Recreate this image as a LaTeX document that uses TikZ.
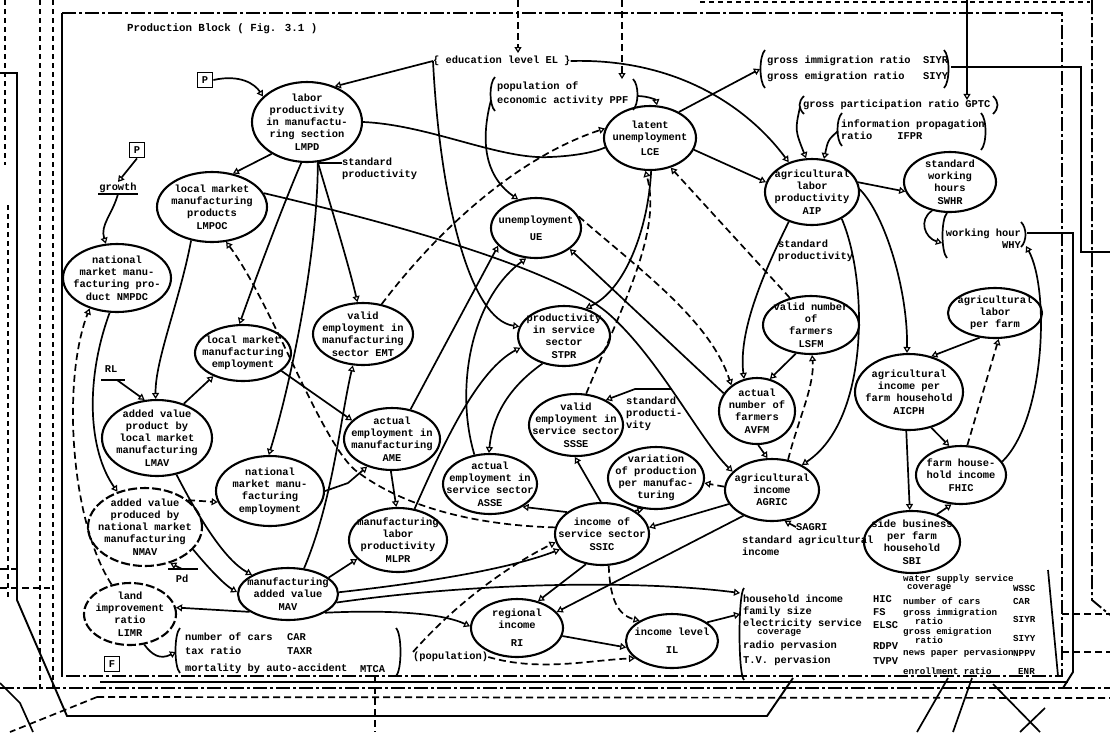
\documentclass[tikz,border=0pt]{standalone}
\usepackage{fontspec}
\setmainfont{Liberation Mono}
\usetikzlibrary{shapes.geometric,arrows.meta}

% ellipse node with a separate text node on top of it
\newcommand\enode[6][]{%
  \node[ell,#1,minimum width=#4pt,minimum height=#5pt] (#2) at (#3) {};
  \node[etxt] (#2-t) at (#2) {#6};}
% hand-drawn round brackets
\newcommand\openpar[3]{\draw[pen] ({#1+5},#2) .. controls ({#1-1},{#2+6}) and ({#1-1},{#3-6}) .. ({#1+5},#3);}
\newcommand\closepar[3]{\draw[pen] ({#1-5},#2) .. controls ({#1+1},{#2+6}) and ({#1+1},{#3-6}) .. ({#1-5},#3);}

\begin{document}
\begin{tikzpicture}[x=1pt,y=-1pt,
  font=\fontsize{10.4}{12.2}\selectfont\bfseries,
  ell/.style={ellipse,draw,line width=2.1pt,inner sep=0pt},
  etxt/.style={align=center,inner sep=0pt},
  lbl/.style={align=left,inner sep=0pt,anchor=west},
  pen/.style={line width=1.7pt},
  ar/.style={pen,-{Triangle[open,length=6pt,width=7pt,line width=1.2pt]}},
  da/.style={ar,dash pattern=on 7pt off 4pt},
  dl/.style={pen,dash pattern=on 7pt off 4pt},
  rail/.style={line width=1.8pt,dash pattern=on 5pt off 4pt},
  dashdot/.style={line width=1.9pt,dash pattern=on 14pt off 3pt on 3pt off 3pt},
  frm/.style={line width=1.9pt},
  box/.style={draw,line width=1.8pt,inner sep=2.5pt,minimum size=15pt},
  small/.style={font=\fontsize{9.2}{10}\selectfont\bfseries}]
\useasboundingbox (0,0) rectangle (1110,732);
\fill[white] (0,0) rectangle (1110,732);

% ---------- frames and rails ----------
\draw[dashdot] (62,13) rectangle (1062,676);
\draw[frm] (62,13) -- (62,676);
\draw[frm] (0,73) -- (17,73) -- (17,600) -- (67,716) -- (767,716) -- (793,678);
\draw[rail] (5,0) -- (5,165);
\draw[rail] (40,0) -- (40,690);
\draw[rail] (53,0) -- (53,690);
\draw[rail] (8,205) -- (8,600);
\draw[dl] (0,569) -- (20,569);
\draw[dl] (0,588) -- (50,588);
\draw[pen] (100,682) -- (1068,682);
\draw[dashdot] (0,688) -- (1110,688);
\draw[dl] (97,697) -- (1110,698);
\draw[dl] (97,697) -- (10,732);
\draw[pen] (0,683) -- (20,703) -- (33,732);
\draw[dl] (375,676) -- (375,732);
\draw[rail,line width=2.2pt] (700,2) -- (1090,2);
\draw[dashdot] (1092,0) -- (1092,600) -- (1110,615);
\draw[frm] (1027,233) -- (1073,233) -- (1073,672) -- (1063,688);
\draw[pen] (951,67) -- (1081,67) -- (1081,252) -- (1110,252);
\draw[dl] (1062,614) -- (1110,614);
\draw[dl] (1062,652) -- (1110,652);
\draw[pen] (1048,570) -- (1058,676);
\draw[pen] (917,732) -- (948,678);
\draw[pen] (953,732) -- (972,678);
\draw[pen] (993,684) -- (1040,732);
\draw[pen] (1020,732) -- (1045,708);

% ---------- title ----------
\node[anchor=west,inner sep=0pt,font=\fontsize{10.8}{12}\selectfont\bfseries] (title) at (127,29) {Production Block ( Fig. 3.1 )};

% ---------- ellipses ----------
\enode{lmpd}{307,122}{110}{80}{labor\\productivity\\in manufactu-\\ring section\\LMPD}
\enode{lmpoc}{212,207}{110}{70}{local market\\manufacturing\\products\\LMPOC}
\enode{nmpdc}{117,278}{108}{68}{national\\market manu-\\facturing pro-\\duct NMPDC}
\enode{emt}{363,334}{100}{62}{valid\\employment in\\manufacturing\\sector EMT}
\enode{lmme}{243,353}{96}{56}{local market\\manufacturing\\employment}
\enode{lmav}{157,438}{110}{76}{added value\\product by\\local market\\manufacturing\\LMAV}
\enode[dash pattern=on 9pt off 3pt]{nmav}{145,527}{114}{78}{added value\\produced by\\national market\\manufacturing\\NMAV}
\enode{nmme}{270,491}{108}{70}{national\\market manu-\\facturing\\employment}
\enode{ame}{392,439}{96}{62}{actual\\employment in\\manufacturing\\AME}
\enode{mlpr}{398,540}{98}{64}{manufacturing\\labor\\productivity\\MLPR}
\enode{mav}{288,594}{100}{52}{manufacturing\\added value\\MAV}
\enode[dash pattern=on 9pt off 3pt]{limr}{130,614}{92}{62}{land\\improvement\\ratio\\LIMR}
\enode{ue}{536,228}{90}{60}{unemployment\\[5pt]UE}
\enode{stpr}{564,336}{92}{60}{productivity\\in service\\sector\\STPR}
\enode{lce}{650,138}{92}{64}{latent\\unemployment\\[3pt]LCE}
\enode{aip}{812,192}{94}{66}{agricultural\\labor\\productivity\\AIP}
\enode{swhr}{950,182}{92}{60}{standard\\working\\hours\\SWHR}
\enode{lsfm}{811,325}{96}{58}{valid number\\of\\farmers\\LSFM}
\enode{alpf}{995,313}{94}{50}{agricultural\\labor\\per farm}
\enode{avfm}{757,411}{76}{66}{actual\\number of\\farmers\\AVFM}
\enode{aicph}{909,392}{108}{76}{agricultural\\income per\\farm household\\AICPH}
\enode{fhic}{961,475}{90}{58}{farm house-\\hold income\\FHIC}
\enode{sbi}{912,542}{96}{62}{side business\\per farm\\household\\SBI}
\enode{agric}{772,490}{94}{62}{agricultural\\income\\AGRIC}
\enode{vpm}{656,478}{96}{62}{variation\\of production\\per manufac-\\turing}
\enode{ssse}{576,425}{94}{62}{valid\\employment in\\service sector\\SSSE}
\enode{asse}{490,484}{94}{60}{actual\\employment in\\service sector\\ASSE}
\enode{ssic}{602,534}{94}{62}{income of\\service sector\\SSIC}
\enode{ri}{517,628}{92}{58}{regional\\income\\[6pt]RI}
\enode{il}{672,641}{92}{54}{income level\\[6pt]IL}

% ---------- free labels ----------
\node[anchor=west,inner sep=0pt] (el) at (433,61) {\{ education level EL \}};
\node[lbl] (ppf) at (497,94) {population of\\[2pt]economic activity PPF};
\node[lbl] (siyr) at (767,69) {gross immigration ratio~~SIYR\\[4pt]gross emigration ratio~~~SIYY};
\node[lbl] (gptc) at (803,105) {gross participation ratio~GPTC};
\node[lbl] (ifpr) at (841,130) {information propagation\\ratio~~~~IFPR};
\node[inner sep=0pt,align=right,anchor=east] (why) at (1021,239) {working hour\\WHY};
\node[lbl] (sp1) at (342,169) {standard\\productivity};
\node[lbl] (sp2) at (778,251) {standard\\productivity};
\node[lbl] (sp3) at (626,414) {standard\\producti-\\vity};
\node[inner sep=1pt] (growth) at (118,188) {growth};
\node[box] (p1) at (205,80) {P};
\node[box] (p2) at (137,150) {P};
\node[box] (fbox) at (112,664) {F};
\node[inner sep=0pt] (rl) at (111,369) {RL};
\node[inner sep=0pt] (pd) at (182,579) {Pd};
\node[lbl] (sagri) at (796,527) {SAGRI};
\node[lbl] (sai) at (742,546) {standard agricultural\\income};
\node[lbl] (pop) at (413,657) {(population)};

\node[lbl] (car1) at (185,637) {number of cars};
\node[lbl] (car2) at (287,637) {CAR};
\node[lbl] (tax1) at (185,651) {tax ratio};
\node[lbl] (tax2) at (287,651) {TAXR};
\node[lbl] (mor1) at (185,669) {mortality by auto-accident};
\node[lbl] (mor2) at (360,669) {MTCA};

\node[lbl] (hic1) at (743,599) {household income};
\node[lbl] (hic2) at (873,599) {HIC};
\node[lbl] (fs1) at (743,612) {family size};
\node[lbl] (fs2) at (873,612) {FS};
\node[lbl] (elsc1) at (743,624) {electricity service};
\node[lbl,small] (elsc3) at (757,633) {coverage};
\node[lbl] (elsc2) at (873,625) {ELSC};
\node[lbl] (rdpv1) at (743,646) {radio pervasion};
\node[lbl] (rdpv2) at (873,646) {RDPV};
\node[lbl] (tvpv1) at (743,661) {T.V. pervasion};
\node[lbl] (tvpv2) at (873,661) {TVPV};

\node[lbl,small] (ws1) at (903,579) {water supply service};
\node[lbl,small] (ws3) at (907,588) {coverage};
\node[lbl,small] (ws2) at (1013,588) {WSSC};
\node[lbl,small] (nc1) at (903,601) {number of cars};
\node[lbl,small] (nc2) at (1013,601) {CAR};
\node[lbl,small] (gi1) at (903,613) {gross immigration};
\node[lbl,small] (gi3) at (915,621) {ratio};
\node[lbl,small] (gi2) at (1013,619) {SIYR};
\node[lbl,small] (ge1) at (903,632) {gross emigration};
\node[lbl,small] (ge3) at (915,640) {ratio};
\node[lbl,small] (ge2) at (1013,638) {SIYY};
\node[lbl,small] (np1) at (903,653) {news paper pervasion};
\node[lbl,small] (np2) at (1013,653) {NPPV};
\node[lbl,small] (en1) at (903,671) {enrollment ratio};
\node[lbl,small] (en2) at (1018,671) {ENR};

% ---------- brackets ----------
\openpar{490}{77}{111}  \closepar{638}{79}{110}
\openpar{760}{50}{88}   \closepar{949}{50}{88}
\openpar{799}{96}{114}  \closepar{998}{96}{114}
\openpar{837}{113}{146} \closepar{986}{113}{150}
\openpar{942}{213}{258} \closepar{1026}{222}{247}
\openpar{175}{628}{673} \closepar{401}{628}{676}
\openpar{739}{588}{680}
\draw[pen] (growth.south west) -- (growth.south east);
\draw[pen] (101,380) -- (125,380);
\draw[pen] (168,569) -- (198,569);

% ---------- attachment points ----------
\coordinate (ppfL) at (491,100);
\coordinate (ppfR) at (637,96);
\coordinate (siyrL) at (760,69);
\coordinate (gptcL) at (800,107);
\coordinate (ifprL) at (838,131);
\coordinate (whyL) at (942,243);
\coordinate (whyR) at (1026,246);
\coordinate (carL) at (176,652);
\coordinate (hicA) at (740,593);
\coordinate (hicB) at (740,614);
\coordinate (rlbar) at (117,380);
\coordinate (pdbar) at (182,569);
\coordinate (tk1) at (318,163);
\coordinate (br3) at (671,389);
\coordinate (topA) at (518,0);
\coordinate (topB) at (622,0);
\coordinate (topC) at (967,0);

% ---------- connectors: inputs from outside ----------
\draw[da] (topA) -- (518,53);
\draw[da] (topB) -- (622,79);
\draw[ar] (topC) -- (gptc.north -| topC);

% ---------- connectors: manufacturing side ----------
\draw[ar] (p1.east) .. controls (240,74) and (255,84) .. (lmpd.150);
\draw[ar] (p2.south) -- (growth.north);
\draw[ar] (growth.south) .. controls (112,215) and (100,225) .. (nmpdc.108);
\draw[ar] (lmpd.222) -- (lmpoc.58);
\draw[ar] (lmpd.262) .. controls (285,200) and (255,280) .. (lmme.97);
\draw[ar] (lmpd.285) .. controls (318,250) and (292,380) .. (nmme.92);
\draw[ar] (lmpd.285) .. controls (335,220) and (350,270) .. (emt.100);
\draw[pen] (tk1) -- (tk1 -| sp1.west);
\draw[pen] (lmpd.east) .. controls (430,125) and (500,160) .. (550,157) .. controls (575,156) and (595,152) .. (lce.192);
\draw[ar] (el.west) -- (lmpd.52);
\draw[ar] (el.west) .. controls (440,200) and (470,320) .. (stpr.168);
\draw[ar] (el.east) .. controls (680,58) and (750,110) .. (aip.128);
\draw[ar] (ppfL) .. controls (478,150) and (490,180) .. (ue.122);
\draw[ar] (ppfR) .. controls (648,96) and (656,100) .. (lce.78);
\draw[da] (emt.58) .. controls (430,240) and (510,160) .. (lce.168);
\draw[ar] (lce.345) -- (aip.168);
\draw[ar] (lce.42) -- (siyrL);
\draw[da] (ssse.72) .. controls (625,300) and (662,230) .. (lce.262);
\draw[ar] (lce.272) .. controls (648,230) and (625,290) .. (stpr.52);
\draw[da] (lsfm.128) -- (lce.305);
\draw[ar] (ame.58) -- (ue.205);
\draw[ar] (asse.118) .. controls (455,390) and (470,300) .. (ue.252);
\draw[ar] (stpr.232) .. controls (505,390) and (492,420) .. (asse.92);
\draw[ar] (mlpr.62) .. controls (445,440) and (478,370) .. (stpr.195);
\draw[ar] (avfm.152) -- (ue.328);
\draw[da] (ue.15) .. controls (640,270) and (710,320) .. (avfm.135);
\draw[ar] (lmpoc.15) .. controls (400,225) and (560,270) .. (610,315) .. controls (660,360) and (700,440) .. (agric.155);
\draw[ar] (br3) -- (635,389) -- (ssse.40);
\draw[ar] (lmpoc.238) .. controls (180,300) and (155,360) .. (lmav.92);
\draw[ar] (lmav.52) -- (lmme.218);
\draw[ar] (rlbar) -- (lmav.108);
\draw[ar] (nmpdc.258) .. controls (85,380) and (88,450) .. (nmav.128);
\draw[da] (limr.122) .. controls (70,520) and (62,380) .. (nmpdc.228);
\draw[ar] (lmav.298) .. controls (200,520) and (225,560) .. (mav.152);
\draw[ar] (nmav.335) .. controls (210,570) and (225,585) .. (mav.178);
\draw[ar] (lmme.335) -- (ame.155);
\draw[ar] (nmme.east) -- (348,483) -- (ame.228);
\draw[da] (nmav.32) -- (nmme.192);
\draw[ar] (ame.268) -- (mlpr.93);
\draw[ar] (mav.22) -- (mlpr.205);
\draw[ar] (mav.58) .. controls (333,500) and (340,420) .. (emt.252);
\draw[da] (ssic.172) .. controls (470,525) and (400,505) .. (355,470) .. controls (320,440) and (270,300) .. (lmpoc.292);
\draw[ar] (mav.2) .. controls (450,580) and (520,565) .. (ssic.200);
\draw[ar] (mav.350) .. controls (480,582) and (640,580) .. (hicA);
\draw[ar] (mav.333) .. controls (380,610) and (440,612) .. (ri.178);
\draw[ar] (mav.205) -- (limr.8);
\draw[ar] (limr.295) .. controls (152,655) and (160,660) .. (carL);
\draw[ar] (pdbar) -- (nmav.305);

% ---------- connectors: service and income ----------
\draw[ar] (ssic.242) -- (ri.52);
\draw[da] (ssic.282) .. controls (610,600) and (618,615) .. (il.148);
\draw[ar] (agric.222) -- (ri.22);
\draw[ar] (ri.350) -- (il.188);
\draw[ar] (il.28) -- (hicB);
\draw[da] (pop.east) .. controls (540,672) and (590,660) .. (il.205);
\draw[da] (pop.north west) .. controls (450,610) and (500,570) .. (ssic.190);
\draw[ar] (ssic.148) -- (asse.325);
\draw[ar] (ssic.92) -- (ssse.268);
\draw[da] (ssic.35) -- (vpm.248);
\draw[da] (agric.176) -- (vpm.354);
\draw[ar] (agric.198) -- (ssic.8);
\draw[ar] (sagri.west) -- (agric.292);

% ---------- connectors: agriculture side ----------
\draw[ar] (aip.232) .. controls (765,270) and (738,330) .. (avfm.112);
\draw[ar] (lsfm.242) -- (avfm.68);
\draw[da] (agric.62) .. controls (798,420) and (815,385) .. (lsfm.272);
\draw[ar] (avfm.272) -- (agric.98);
\draw[ar] (aip.318) .. controls (868,280) and (870,420) .. (agric.40);
\draw[ar] (aip.12) -- (swhr.192);
\draw[ar] (aip.3) .. controls (885,215) and (908,290) .. (aicph.93);
\draw[ar] (alpf.238) -- (aicph.58);
\draw[ar] (aicph.302) -- (fhic.112);
\draw[ar] (aicph.266) -- (sbi.94);
\draw[ar] (sbi.48) -- (fhic.252);
\draw[da] (fhic.78) -- (alpf.278);
\draw[ar] (fhic.18) .. controls (1045,420) and (1050,290) .. (whyR);
\draw[ar] (swhr.238) .. controls (918,220) and (925,238) .. (whyL);
\draw[ar] (gptcL) .. controls (795,130) .. (aip.100);
\draw[ar] (ifprL) .. controls (828,140) .. (aip.70);
\end{tikzpicture}
\end{document}
